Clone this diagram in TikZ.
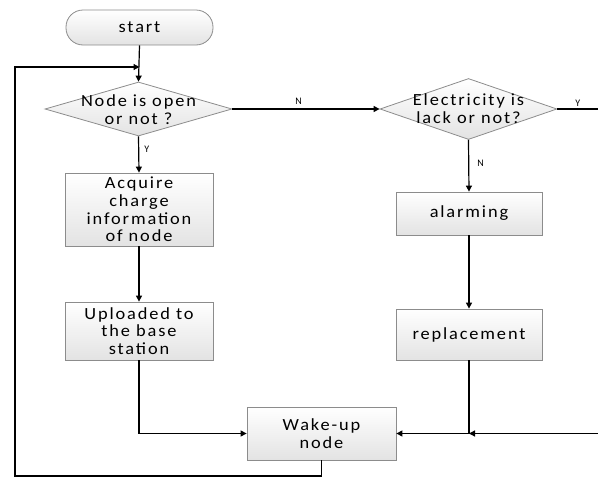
\documentclass[tikz,border=0pt]{standalone}
\usepackage{fontspec}
\setmainfont{Carlito}[LetterSpace=11,FakeStretch=1.08]
\newfontfamily\tagfont{Carlito}
\usetikzlibrary{shapes.geometric,arrows.meta}
\begin{document}
\begin{tikzpicture}[x=1pt,y=1pt,
  font=\fontsize{17}{17.8}\selectfont,
  block/.style={draw=black!45, line width=0.8pt, top color=white, bottom color=black!11,
    align=center, inner sep=0pt},
  stepbox/.style={block, rectangle},
  term/.style={block, rectangle, rounded corners=17pt},
  choice/.style={block, diamond},
  flow/.style={line width=1.2pt, -{Triangle[length=6pt,width=6pt]}},
  plain/.style={line width=1.2pt},
  tag/.style={font=\tagfont\fontsize{10}{10}\selectfont, inner sep=1pt}]
\useasboundingbox (0,0) rectangle (598,-477);

% process steps
\node[term, minimum width=147, minimum height=35] (start) at (139.5,-27.5) {start};
\node[choice, minimum width=187, minimum height=54] (d1) at (138.5,-109) {};
\node[align=center] (d1t) at (138.5,-110) {Node is open\\or not ?};
\node[stepbox, minimum width=148, minimum height=73] (acq) at (139,-209.5)
  {Acquire\\charge\\information\\of node};
\node[stepbox, minimum width=148, minimum height=58] (up) at (139,-331)
  {Uploaded to\\the base\\station};
\node[choice, minimum width=177, minimum height=61] (d2) at (468.5,-109) {};
\node[align=center] (d2t) at (468.5,-109) {Electricity is\\lack or not?};
\node[stepbox, minimum width=146, minimum height=43] (alarm) at (469,-213.5) {alarming};
\node[stepbox, minimum width=146, minimum height=51] (repl) at (469,-334.5) {replacement};
\node[stepbox, minimum width=149, minimum height=53] (wake) at (321.5,-433.5)
  {Wake-up\\node};

% helper points for the loop and the edge lines
\coordinate (loopin) at (start.south |- 0,-67);
\coordinate (bl) at (15,-476);
\coordinate (tl) at (15,-67);
\coordinate (yend) at (598,-109);
\coordinate (rin) at (598,-433.5);
\coordinate (join) at (repl.south |- wake.east);

% connectors
\draw[flow] (start.south) -- (d1.north);
\draw[flow] (d1.south) -- node[tag, pos=0.35, right=4pt] {Y} (acq.north);
\draw[flow] (acq.south) -- (up.north);
\draw[flow] (up.south) |- (wake.west);
\draw[flow] (d1.east) -- node[tag, pos=0.45, above=3pt] {N} (d2.west);
\draw[plain] (d2.east) -- node[tag, pos=0.5, above=1pt] {Y} (yend);
\draw[flow] (d2.south) -- node[tag, pos=0.45, right=7pt] {N} (alarm.north);
\draw[flow] (alarm.south) -- (repl.north);
\draw[flow] (repl.south) |- (wake.east);
\draw[flow] (rin) -- (join);
\draw[flow] (wake.south) |- (bl) -- (tl) -- (loopin);
\end{tikzpicture}
\end{document}
